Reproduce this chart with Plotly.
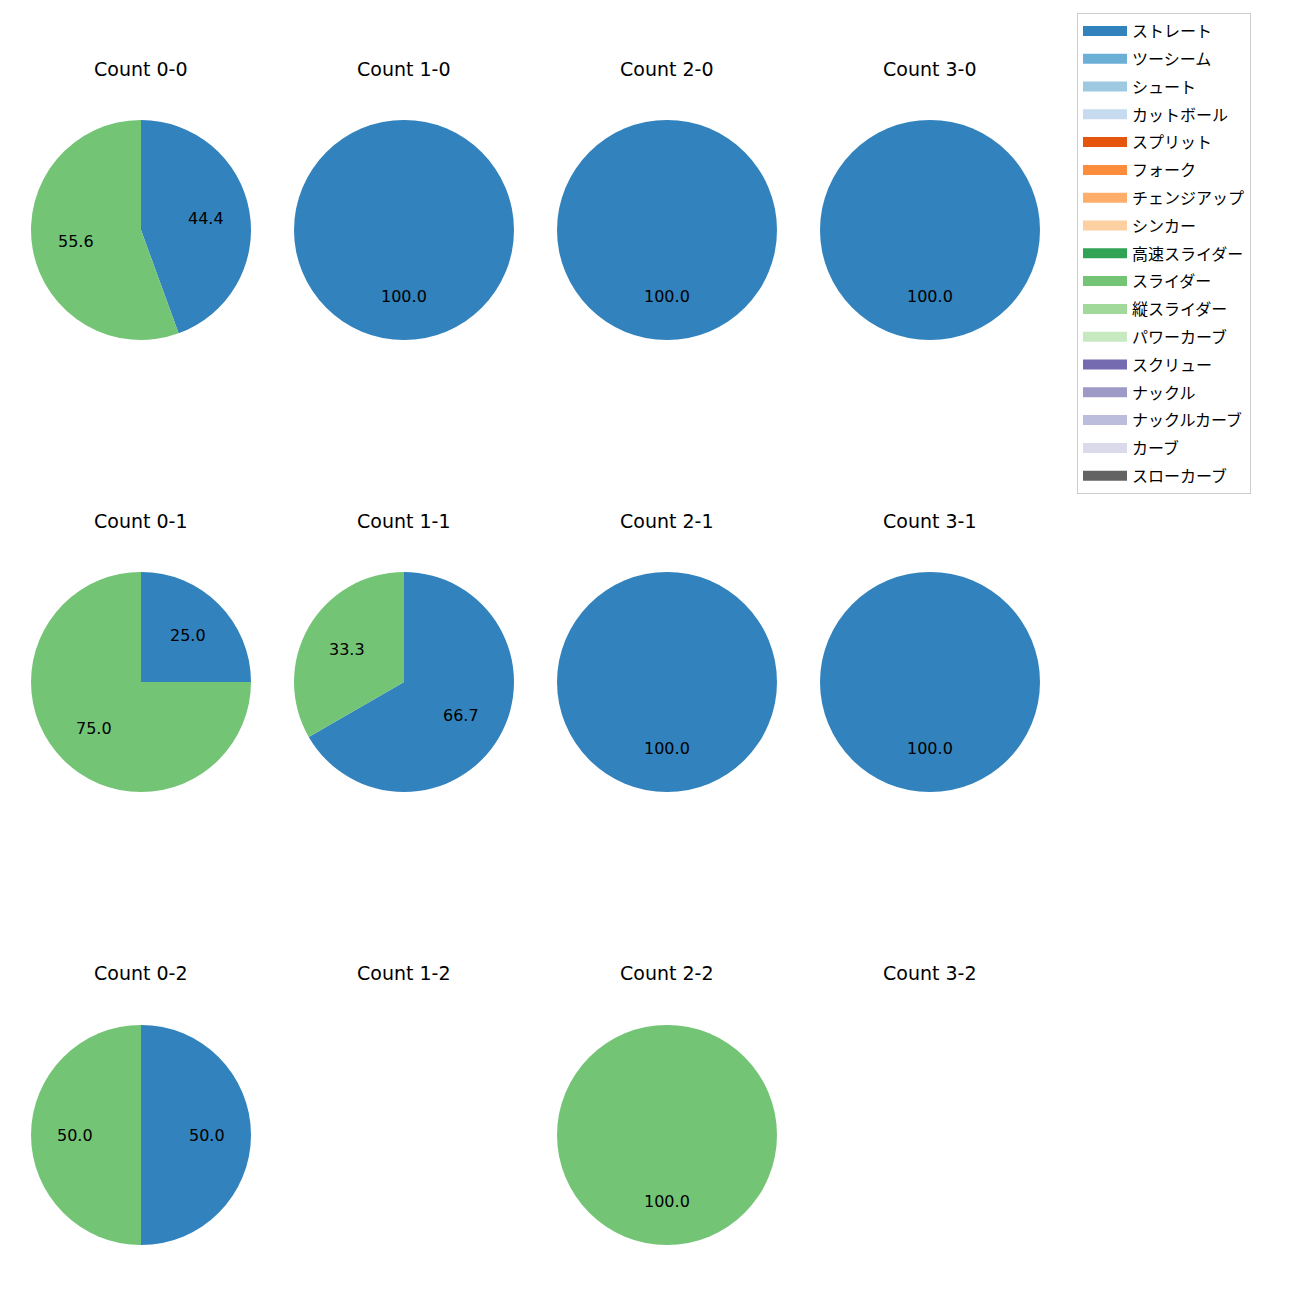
import plotly.graph_objects as go
import math

W = H = 1300
OFF = 8  # page body margin offset

pitch_types = ["ストレート", "ツーシーム", "シュート", "カットボール", "スプリット", "フォーク",
               "チェンジアップ", "シンカー", "高速スライダー", "スライダー", "縦スライダー",
               "パワーカーブ", "スクリュー", "ナックル", "ナックルカーブ", "カーブ", "スローカーブ"]
colors = ["#3182bd", "#6baed6", "#9ecae1", "#c6dbef", "#e6550d", "#fd8d3c", "#fdae6b", "#fdd0a2",
          "#31a354", "#74c476", "#a1d99b", "#c7e9c0", "#756bb1", "#9e9ac8", "#bcbddc", "#dadaeb",
          "#636363"]

# counts per count-situation: (straight, slider)
count_labels = ["Count 0-0", "Count 1-0", "Count 2-0", "Count 3-0",
                "Count 0-1", "Count 1-1", "Count 2-1", "Count 3-1",
                "Count 0-2", "Count 1-2", "Count 2-2", "Count 3-2"]
straight = [4, 1, 1, 1, 1, 2, 1, 1, 1, 0, 0, 0]
slider = [5, 0, 0, 0, 3, 1, 0, 0, 1, 0, 1, 0]

col_cx = [141, 404, 667, 930]
row_cy = [230, 682, 1135]
title_y = [69, 521, 973]
R = 110


def px(x):
    return (x - OFF) / W


def py(y):
    return 1 - (y - OFF) / H


fig = go.Figure()
annotations = []

for i, name in enumerate(count_labels):
    r_i, c_i = divmod(i, 4)
    cx, cy = col_cx[c_i], row_cy[r_i]
    annotations.append(dict(text=name, x=px(cx), y=py(title_y[r_i]), xref="paper", yref="paper",
                            showarrow=False, xanchor="center", yanchor="middle",
                            font=dict(size=19, color="#000", family="DejaVu Sans")))
    vals = [straight[i], slider[i]]
    labs = ["ストレート", "スライダー"]
    cols = [colors[0], colors[9]]
    total = sum(vals)
    if total == 0:
        continue
    fig.add_trace(go.Pie(values=vals, labels=labs, marker=dict(colors=cols, line=dict(width=0)),
                         sort=False, direction="clockwise", rotation=0, textinfo="none",
                         showlegend=False,
                         domain=dict(x=[px(cx - R), px(cx + R)], y=[py(cy + R), py(cy - R)])))
    cum = 0
    for v in vals:
        if v == 0:
            continue
        frac = v / total
        theta = math.radians(90 - 360 * (cum + frac / 2))
        cum += frac
        lx = cx + 0.6 * R * math.cos(theta)
        ly = cy - 0.6 * R * math.sin(theta)
        annotations.append(dict(text=f"{100 * frac:.1f}", x=px(lx), y=py(ly), xref="paper", yref="paper",
                                showarrow=False, xanchor="center", yanchor="middle",
                                font=dict(size=16, color="#000", family="DejaVu Sans")))

# legend entries
for name, col in zip(pitch_types, colors):
    fig.add_trace(go.Scatter(x=[None], y=[None], mode="lines", name=name,
                             line=dict(color=col, width=13), legendgroup=name, hoverinfo="skip"))

fig.update_layout(
    width=W, height=H, margin=dict(l=0, r=0, t=0, b=0),
    paper_bgcolor="white", plot_bgcolor="white",
    font=dict(family="Noto Sans CJK JP, sans-serif", color="#000"),
    xaxis=dict(visible=False, domain=[0, 0.01]), yaxis=dict(visible=False, domain=[0, 0.01]),
    annotations=annotations,
    legend=dict(x=px(1077), y=py(13), xanchor="left", yanchor="top",
                bordercolor="#cccccc", borderwidth=1, bgcolor="white",
                font=dict(size=16, color="#000"), tracegroupgap=4, itemwidth=44),
)

fig.write_html("out.html")
